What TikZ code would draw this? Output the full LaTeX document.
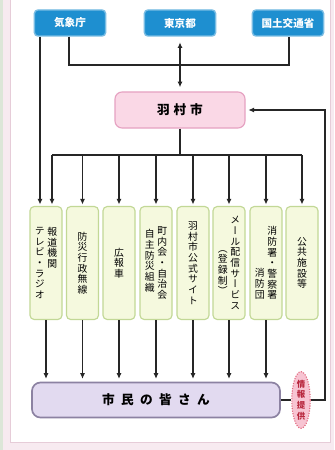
\documentclass[tikz,border=0pt]{standalone}
\usepackage{fontspec}
\usetikzlibrary{arrows.meta,shapes.geometric}
\newfontfamily\jp{Noto Sans CJK JP}
\newfontfamily\jpv[RawFeature=+vert]{Noto Sans CJK JP}
\definecolor{agency}{HTML}{1E8FD0}
\definecolor{cityfill}{HTML}{FAD8E6}
\definecolor{cityline}{HTML}{E6A2C2}
\definecolor{mediafill}{HTML}{F5F9DE}
\definecolor{medialine}{HTML}{C2D896}
\definecolor{folkfill}{HTML}{E2DAF0}
\definecolor{folkline}{HTML}{8C82A2}
\definecolor{infofill}{HTML}{F7C4D2}
\definecolor{infoline}{HTML}{E2687E}
\definecolor{infotext}{HTML}{B8283E}
\definecolor{pagebg}{HTML}{F7EAF0}
\definecolor{pageline}{HTML}{E6CCD8}
\definecolor{leftstrip}{HTML}{DCE6D8}
% vertical japanese: one character per line
\def\tateloop#1{\ifx#1\relax\else\hbox to 1em{\hss#1\hss}\expandafter\tateloop\fi}
\newcommand{\tate}[2][0pt]{\vtop{\kern#1\baselineskip=7.6pt\lineskiplimit=-10pt\tateloop#2\relax}}

\begin{document}
\begin{tikzpicture}
  [x=0.25mm,y=-0.25mm,
   every node/.style={inner sep=0pt},
   agencybox/.style={rectangle,rounded corners=2.5pt,fill=agency,draw=agency!60,line width=1pt,
     minimum width=17.8mm,minimum height=6.5mm,text=white,font=\jp\bfseries\fontsize{7.5}{8}\selectfont},
   citybox/.style={rectangle,rounded corners=5pt,fill=cityfill,draw=cityline,line width=0.8pt,
     minimum width=32.5mm,minimum height=9mm,font=\jp\bfseries\fontsize{9}{10}\selectfont\addfontfeature{LetterSpace=30}},
   mediabox/.style={rectangle,rounded corners=3pt,fill=mediafill,draw=medialine,line width=0.8pt,
     minimum width=8mm,minimum height=28.25mm,font=\jpv\fontsize{7}{7.6}\selectfont},
   folkbox/.style={rectangle,rounded corners=6pt,fill=folkfill,draw=folkline,line width=1.2pt,
     minimum width=62mm,minimum height=8.75mm,font=\jp\bfseries\fontsize{9}{10}\selectfont\addfontfeature{LetterSpace=50}},
   infobox/.style={ellipse,fill=infofill,draw=infoline,densely dotted,line width=0.8pt,
     minimum width=4.6mm,minimum height=14mm,text=infotext,font=\jpv\bfseries\fontsize{6}{6.5}\selectfont},
   link/.style={line width=0.9pt,draw=black!85},
   arr/.style={link,-{Latex[length=4pt,width=3.6pt]}}]
  \useasboundingbox (0,0) rectangle (334,450);
  % page
  \fill[pagebg] (0,0) rectangle (334,450);
  \fill[leftstrip] (0,0) rectangle (3,450);
  \filldraw[fill=white,draw=pageline,line width=0.6pt] (10,-5) rectangle (330,442);
  % senders
  \node[agencybox] (kisho) at (70,23) {気象庁};
  \node[agencybox] (tokyo) at (180,23) {東京都};
  \node[agencybox] (kokudo) at (288,23) {国土交通省};
  \node[citybox] (hamura) at (180,110) {羽村市};
  % channels
  \node[mediabox] (b1) at (46,263) {\tate{テレビ・ラジオ}\hspace{2pt}\tate{報道機関}};
  \node[mediabox] (b2) at (82.5,263) {\tate{防災行政無線}};
  \node[mediabox] (b3) at (119,263) {\tate{広報車}};
  \node[mediabox] (b4) at (156,263) {\tate[2pt]{自主防災組織}\hspace{2pt}\tate{町内会・自治会}};
  \node[mediabox] (b5) at (193,263) {\tate{羽村市公式サイト}};
  \node[mediabox] (b6) at (229,263) {\tate[24pt]{（登録制）}\hspace{2pt}\tate{メール配信サービス}};
  \node[mediabox] (b7) at (266,263) {\tate[30pt]{消防団}\hspace{2pt}\tate{消防署・警察署}};
  \node[mediabox] (b8) at (302,263) {\tate{公共施設等}};
  \node[folkbox] (shimin) at (156,400) {市民の皆さん};
  \node[infobox] (teikyo) at (301,400) {\tate{情報提供}};
  \coordinate (jl) at (69,65);
  \coordinate (jr) at (289,65);
  \coordinate (bar) at (180,155);
  \coordinate (loop) at (325,0);
  % agencies to city
  \draw[link] (kisho.south -| jl) -- (jl) -- (jr) -- (kokudo.south -| jr);
  \draw[link,{Latex[length=4pt,width=3.6pt]}-{Latex[length=4pt,width=3.6pt]},shorten <=4pt,shorten >=3pt] (tokyo) -- (hamura);
  \draw[arr,shorten >=1pt] ([xshift=-1.5mm]b1.north |- kisho.south) -- ([xshift=-1.5mm]b1.north);
  % city to channels
  \draw[link] (hamura) -- (bar);
  \draw[link] ([xshift=1.5mm]b1.north |- bar) -- (b8.north |- bar);
  \draw[arr,shorten >=1pt] ([xshift=1.5mm]b1.north |- bar) -- ([xshift=1.5mm]b1.north);
  \foreach \b in {b2,b3,b4,b5,b6,b7,b8}
    \draw[arr,shorten >=1pt] (\b.north |- bar) -- (\b.north);
  % channels to citizens
  \foreach \b in {b1,b2,b3,b4,b5,b6,b7}
    \draw[arr,shorten >=2pt] (\b.south) -- (\b.south |- shimin.north);
  % feedback
  \draw[link] (shimin) -- (teikyo);
  \draw[arr,shorten >=2pt] (teikyo.east) -| (hamura.east -| loop) -- (hamura.east);
\end{tikzpicture}
\end{document}
